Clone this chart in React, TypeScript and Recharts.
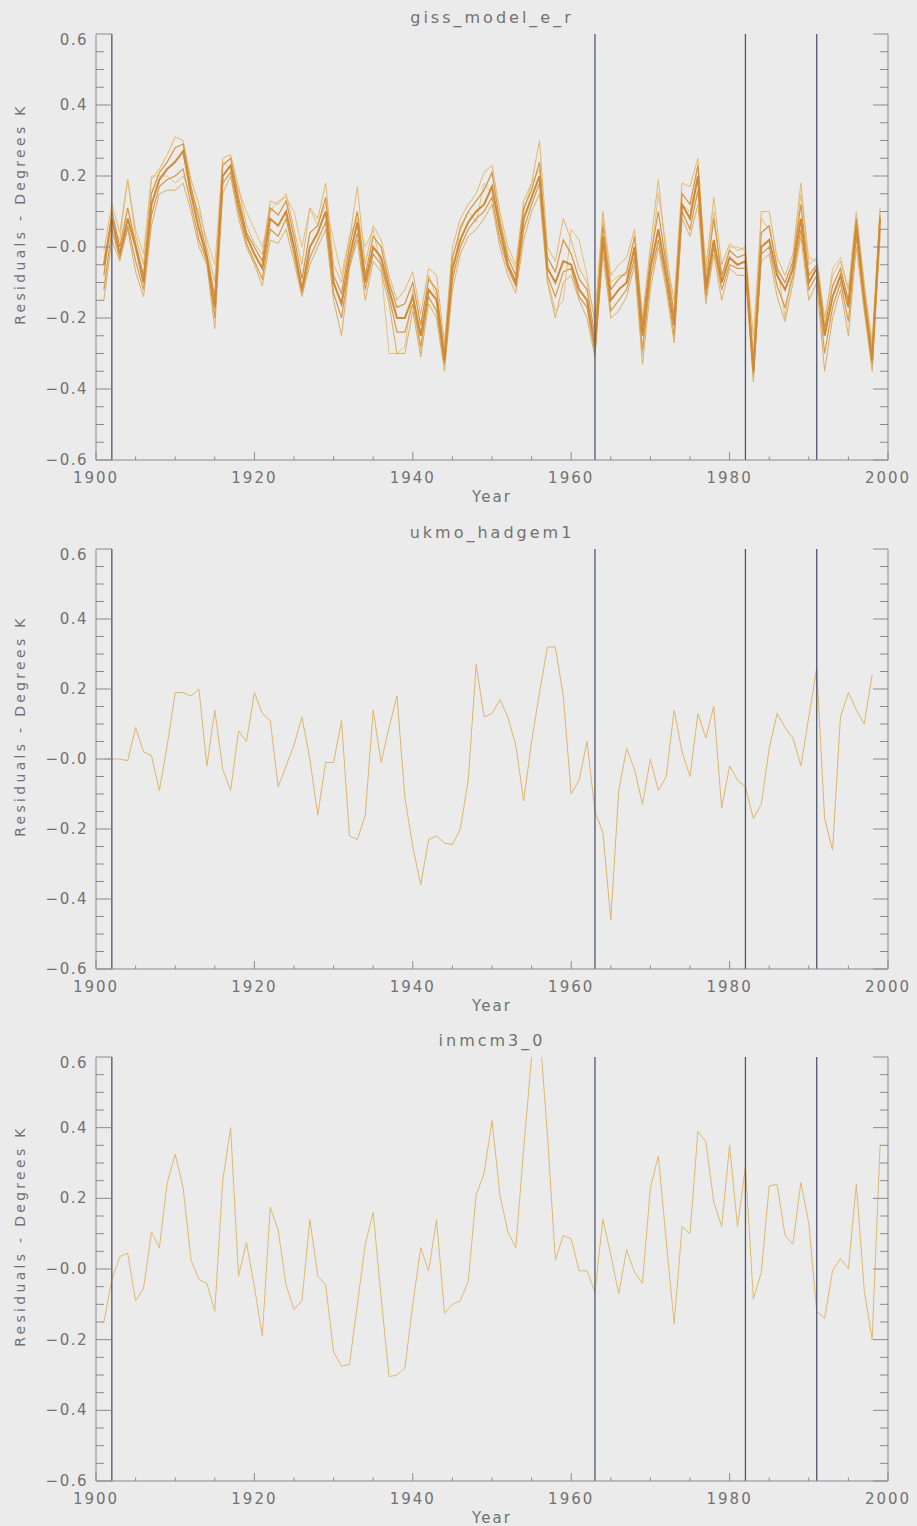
import React from 'react';
import { LineChart, Line, XAxis, YAxis, ReferenceLine } from 'recharts';

const START_YEAR = 1901;

// giss_model_e_r ensemble members (1901-1999)
const gissMean = [
  -0.05, 0.08, -0.02, 0.08, 0.00, -0.10, 0.12, 0.19, 0.22, 0.24,
  0.27, 0.15, 0.05, -0.03, -0.17, 0.20, 0.23, 0.12, 0.03, -0.02,
  -0.06, 0.08, 0.06, 0.10, 0.00, -0.12, 0.00, 0.04, 0.10, -0.10,
  -0.16, -0.03, 0.07, -0.10, 0.00, -0.03, -0.12, -0.20, -0.20, -0.14,
  -0.25, -0.12, -0.15, -0.32, -0.06, 0.02, 0.07, 0.10, 0.12, 0.17,
  0.05, -0.05, -0.10, 0.08, 0.14, 0.20, -0.06, -0.10, -0.04, -0.05,
  -0.12, -0.15, -0.28, 0.03, -0.15, -0.12, -0.10, 0.00, -0.25, -0.06,
  0.05, -0.08, -0.22, 0.12, 0.08, 0.20, -0.12, 0.02, -0.10, -0.03,
  -0.05, -0.04, -0.35, 0.00, 0.02, -0.08, -0.12, -0.06, 0.08, -0.10,
  -0.06, -0.25, -0.14, -0.08, -0.17, 0.06, -0.15, -0.32, 0.08,
];
const giss1 = [
  -0.01, 0.12, 0.04, 0.19, 0.03, -0.05, 0.19, 0.22, 0.26, 0.31,
  0.30, 0.19, 0.12, 0.00, -0.10, 0.25, 0.26, 0.17, 0.06, 0.01,
  -0.02, 0.13, 0.12, 0.15, 0.05, -0.05, 0.11, 0.08, 0.18, -0.05,
  -0.10, 0.02, 0.17, -0.05, 0.06, 0.02, -0.08, -0.15, -0.12, -0.07,
  -0.19, -0.06, -0.08, -0.27, 0.00, 0.08, 0.12, 0.15, 0.21, 0.23,
  0.10, 0.00, -0.05, 0.13, 0.18, 0.30, 0.00, -0.04, 0.08, 0.02,
  -0.06, -0.10, -0.20, 0.10, -0.08, -0.05, -0.03, 0.05, -0.20, 0.00,
  0.19, -0.03, -0.15, 0.18, 0.17, 0.25, -0.07, 0.14, -0.05, 0.01,
  -0.01, 0.00, -0.30, 0.10, 0.10, -0.03, -0.08, -0.02, 0.18, -0.05,
  -0.03, -0.20, -0.08, -0.04, -0.12, 0.10, -0.10, -0.28, 0.11,
];
const giss2 = [
  -0.15, 0.02, -0.04, 0.05, -0.07, -0.14, 0.06, 0.15, 0.16, 0.16,
  0.18, 0.10, 0.00, -0.05, -0.23, 0.15, 0.20, 0.08, 0.00, -0.05,
  -0.11, 0.02, 0.01, 0.05, -0.04, -0.14, -0.05, 0.00, 0.05, -0.15,
  -0.25, -0.06, 0.02, -0.15, -0.04, -0.07, -0.16, -0.30, -0.30, -0.18,
  -0.31, -0.16, -0.20, -0.35, -0.12, -0.02, 0.03, 0.05, 0.08, 0.12,
  0.00, -0.08, -0.13, 0.02, 0.10, 0.15, -0.10, -0.20, -0.10, -0.08,
  -0.15, -0.20, -0.31, -0.02, -0.20, -0.18, -0.14, -0.05, -0.33, -0.12,
  0.00, -0.12, -0.27, 0.08, 0.03, 0.12, -0.16, -0.02, -0.15, -0.06,
  -0.08, -0.08, -0.38, -0.04, -0.02, -0.14, -0.21, -0.10, 0.03, -0.15,
  -0.10, -0.35, -0.20, -0.12, -0.25, 0.00, -0.18, -0.35, 0.03,
];
const giss3 = [
  -0.08, 0.10, 0.00, 0.11, 0.01, -0.08, 0.15, 0.21, 0.24, 0.28,
  0.29, 0.17, 0.08, -0.02, -0.14, 0.23, 0.25, 0.14, 0.04, 0.00,
  -0.04, 0.11, 0.09, 0.13, 0.03, -0.09, 0.04, 0.06, 0.14, -0.08,
  -0.13, 0.00, 0.10, -0.08, 0.03, 0.00, -0.10, -0.17, -0.16, -0.10,
  -0.22, -0.09, -0.12, -0.30, -0.03, 0.05, 0.10, 0.13, 0.16, 0.21,
  0.07, -0.03, -0.08, 0.11, 0.16, 0.24, -0.03, -0.07, 0.02, -0.02,
  -0.09, -0.12, -0.25, 0.06, -0.12, -0.09, -0.07, 0.03, -0.22, -0.03,
  0.10, -0.05, -0.19, 0.15, 0.12, 0.23, -0.10, 0.08, -0.08, -0.01,
  -0.03, -0.02, -0.33, 0.04, 0.06, -0.06, -0.10, -0.04, 0.12, -0.08,
  -0.05, -0.23, -0.11, -0.06, -0.15, 0.08, -0.13, -0.30, 0.09,
];
const giss4 = [
  -0.12, 0.05, -0.03, 0.06, -0.04, -0.12, 0.09, 0.17, 0.19, 0.20,
  0.22, 0.12, 0.02, -0.04, -0.20, 0.18, 0.21, 0.10, 0.01, -0.04,
  -0.09, 0.05, 0.03, 0.08, -0.02, -0.13, -0.03, 0.02, 0.07, -0.13,
  -0.20, -0.05, 0.04, -0.12, -0.02, -0.05, -0.14, -0.24, -0.24, -0.16,
  -0.28, -0.14, -0.18, -0.33, -0.09, 0.00, 0.05, 0.08, 0.10, 0.14,
  0.02, -0.06, -0.11, 0.05, 0.12, 0.18, -0.08, -0.14, -0.07, -0.06,
  -0.14, -0.17, -0.30, 0.01, -0.18, -0.15, -0.12, -0.03, -0.29, -0.09,
  0.02, -0.10, -0.25, 0.10, 0.05, 0.16, -0.14, 0.00, -0.12, -0.05,
  -0.06, -0.06, -0.36, -0.02, 0.00, -0.11, -0.17, -0.08, 0.05, -0.12,
  -0.08, -0.30, -0.17, -0.10, -0.21, 0.03, -0.16, -0.33, 0.05,
];
const giss5 = [
  -0.03, 0.06, 0.02, 0.19, 0.05, -0.02, 0.20, 0.20, 0.20, 0.18,
  0.20, 0.15, 0.10, 0.02, -0.05, 0.24, 0.22, 0.16, 0.10, 0.05,
  0.00, 0.10, 0.13, 0.14, 0.10, 0.00, 0.11, 0.06, 0.12, 0.02,
  -0.08, 0.03, 0.08, 0.00, 0.05, -0.06, -0.30, -0.30, -0.28, -0.12,
  -0.30, -0.08, -0.14, -0.30, -0.10, 0.06, 0.10, 0.07, 0.18, 0.15,
  0.08, -0.02, -0.06, 0.10, 0.18, 0.22, -0.09, -0.18, -0.15, 0.05,
  0.02, -0.08, -0.22, 0.08, -0.10, -0.08, -0.08, -0.02, -0.30, -0.05,
  0.15, 0.00, -0.20, 0.12, 0.10, 0.20, -0.05, 0.10, -0.10, 0.00,
  0.00, -0.01, -0.25, 0.08, 0.05, -0.05, -0.20, -0.04, 0.15, -0.03,
  -0.04, -0.22, -0.06, -0.03, -0.12, 0.06, -0.12, -0.26, 0.10,
];

// ukmo_hadgem1 (1901-1998)
const ukmo = [
  0.00, 0.00, 0.00, -0.005, 0.09, 0.02, 0.01, -0.09, 0.04, 0.19,
  0.19, 0.18, 0.20, -0.02, 0.14, -0.03, -0.09, 0.08, 0.05, 0.19,
  0.13, 0.11, -0.08, -0.02, 0.04, 0.12, 0.00, -0.16, -0.01, -0.01,
  0.11, -0.22, -0.23, -0.16, 0.14, -0.01, 0.09, 0.18, -0.11, -0.25,
  -0.36, -0.23, -0.22, -0.24, -0.245, -0.20, -0.06, 0.27, 0.12, 0.13,
  0.17, 0.12, 0.04, -0.12, 0.05, 0.19, 0.32, 0.32, 0.18, -0.10,
  -0.06, 0.05, -0.15, -0.21, -0.46, -0.09, 0.03, -0.03, -0.13, 0.00,
  -0.09, -0.05, 0.14, 0.02, -0.05, 0.13, 0.06, 0.15, -0.14, -0.02,
  -0.06, -0.08, -0.17, -0.13, 0.03, 0.13, 0.09, 0.06, -0.02, 0.12,
  0.26, -0.17, -0.26, 0.12, 0.19, 0.14, 0.10, 0.24,
];

// inmcm3_0 (1901-1999)
const inmcm = [
  -0.15, -0.03, 0.035, 0.045, -0.09, -0.055, 0.105, 0.06, 0.245, 0.325,
  0.23, 0.025, -0.03, -0.04, -0.12, 0.25, 0.40, -0.02, 0.075, -0.05,
  -0.19, 0.175, 0.11, -0.045, -0.115, -0.09, 0.14, -0.02, -0.045, -0.235,
  -0.275, -0.27, -0.10, 0.07, 0.16, -0.08, -0.305, -0.30, -0.28, -0.10,
  0.06, -0.005, 0.14, -0.125, -0.10, -0.09, -0.035, 0.21, 0.27, 0.42,
  0.21, 0.105, 0.06, 0.34, 0.60, 0.68, 0.38, 0.025, 0.095, 0.085,
  -0.005, -0.005, -0.065, 0.14, 0.04, -0.07, 0.055, -0.01, -0.04, 0.23,
  0.32, 0.08, -0.155, 0.12, 0.10, 0.39, 0.36, 0.19, 0.12, 0.35,
  0.12, 0.29, -0.085, -0.01, 0.235, 0.24, 0.095, 0.07, 0.245, 0.13,
  -0.12, -0.14, -0.005, 0.03, 0.00, 0.24, -0.06, -0.20, 0.35,
];

const eventYears = [1902, 1963, 1982, 1991];
const xMajorTicks = [1900, 1920, 1940, 1960, 1980, 2000];
const xMinorTicks = [1905, 1910, 1915, 1925, 1930, 1935, 1945, 1950, 1955, 1965, 1970, 1975, 1985, 1990, 1995];
const yMajorTicks = [-0.6, -0.4, -0.2, 0, 0.2, 0.4, 0.6];
const yMajorLabels = ['\u22120.6', '\u22120.4', '\u22120.2', '\u22120.0', '0.2', '0.4', '0.6'];
const yMinorTicks = [-0.55, -0.5, -0.45, -0.35, -0.3, -0.25, -0.15, -0.1, -0.05, 0.05, 0.1, 0.15, 0.25, 0.3, 0.35, 0.45, 0.5, 0.55];

const BG = '#ebebeb';
const AXIS = '#8a8a8a';
const TEXT = '#727272';
const VLINE = '#50566e';
const FONT = '"DejaVu Sans", Verdana, sans-serif';
const PLOT_LEFT = 96;
const PLOT_RIGHT = 888;
const PLOT_TOP = 34;
const X_AXIS_H = 46;

function buildRows(series: Record<string, number[]>) {
  const keys = Object.keys(series);
  const n = Math.max(...keys.map((k) => series[k].length));
  const rows: any[] = [];
  for (let i = 0; i < n; i++) {
    const r: any = { year: START_YEAR + i };
    keys.forEach((k) => {
      if (i < series[k].length) r[k] = series[k][i];
    });
    rows.push(r);
  }
  return rows;
}

const allX = [...xMajorTicks, ...xMinorTicks].sort((a, b) => a - b);
const allY = [...yMajorTicks, ...yMinorTicks].sort((a, b) => a - b);

function BottomTick(props: any) {
  const { x, payload, base } = props;
  const v = payload.value;
  const major = xMajorTicks.indexOf(v) >= 0;
  return (
    <g>
      <line x1={x} x2={x} y1={base} y2={base - (major ? 8 : 3.5)} stroke={AXIS} strokeWidth={1} />
      {major && (
        <text x={x} y={base + 23} textAnchor="middle" fill={TEXT} fontSize={15} fontFamily={FONT} letterSpacing={2}>
          {v}
        </text>
      )}
    </g>
  );
}

function TopTick(props: any) {
  const { x, payload, base } = props;
  const major = xMajorTicks.indexOf(payload.value) >= 0;
  return <line x1={x} x2={x} y1={base} y2={base + (major ? 8 : 4)} stroke={AXIS} strokeWidth={1} />;
}

function LeftTick(props: any) {
  const { y, payload } = props;
  const idx = yMajorTicks.indexOf(payload.value);
  const major = idx >= 0;
  const isTop = payload.value === 0.6;
  return (
    <g>
      <line x1={PLOT_LEFT} x2={PLOT_LEFT + (major ? 16 : 8)} y1={y} y2={y} stroke={AXIS} strokeWidth={1} />
      {major && (
        <text x={PLOT_LEFT - 8} y={y + (isTop ? 11 : 5)} textAnchor="end" fill={TEXT} fontSize={15} fontFamily={FONT} letterSpacing={1.5}>
          {yMajorLabels[idx]}
        </text>
      )}
    </g>
  );
}

function RightTick(props: any) {
  const { y, payload } = props;
  const major = yMajorTicks.indexOf(payload.value) >= 0;
  return <line x1={PLOT_RIGHT} x2={PLOT_RIGHT - (major ? 15 : 8)} y1={y} y2={y} stroke={AXIS} strokeWidth={1} />;
}

type LineDef = { key: string; color: string; width: number };

function Panel({ title, top, plotH, rows, lines }: { title: string; top: number; plotH: number; rows: any[]; lines: LineDef[] }) {
  const plotBottom = PLOT_TOP + plotH;
  const height = plotBottom + X_AXIS_H;
  const textStyle: React.CSSProperties = {
    position: 'absolute',
    fontFamily: FONT,
    color: TEXT,
    whiteSpace: 'nowrap',
    lineHeight: 1,
  };
  return (
    <div style={{ position: 'absolute', left: 0, top, width: 917, height }}>
      <LineChart width={917} height={height} data={rows} margin={{ top: PLOT_TOP, right: 0, bottom: 0, left: 0 }}>
        <XAxis
          xAxisId="b"
          dataKey="year"
          type="number"
          domain={[1900, 2000]}
          ticks={allX}
          interval={0}
          height={X_AXIS_H}
          orientation="bottom"
          stroke={AXIS}
          tickLine={false}
          tickSize={0}
          tickMargin={0}
          allowDataOverflow
          tick={(p: any) => <BottomTick {...p} base={plotBottom} />}
        />
        <XAxis
          xAxisId="t"
          dataKey="year"
          type="number"
          domain={[1900, 2000]}
          ticks={allX}
          interval={0}
          height={0}
          orientation="top"
          stroke={AXIS}
          tickLine={false}
          allowDataOverflow
          tick={(p: any) => <TopTick {...p} base={PLOT_TOP} />}
        />
        <YAxis
          yAxisId="l"
          type="number"
          domain={[-0.6, 0.6]}
          ticks={allY}
          interval={0}
          width={PLOT_LEFT}
          stroke={AXIS}
          tickLine={false}
          allowDataOverflow
          tick={(p: any) => <LeftTick {...p} />}
        />
        <YAxis
          yAxisId="r"
          orientation="right"
          type="number"
          domain={[-0.6, 0.6]}
          ticks={allY}
          interval={0}
          width={917 - PLOT_RIGHT}
          stroke={AXIS}
          tickLine={false}
          allowDataOverflow
          tick={(p: any) => <RightTick {...p} />}
        />
        {lines.map((l) => (
          <Line
            key={l.key}
            xAxisId="b"
            yAxisId="l"
            type="linear"
            dataKey={l.key}
            stroke={l.color}
            strokeWidth={l.width}
            dot={false}
            activeDot={false}
            isAnimationActive={false}
          />
        ))}
        {eventYears.map((y) => (
          <ReferenceLine key={y} x={y} xAxisId="b" yAxisId="l" stroke={VLINE} strokeWidth={1.3} />
        ))}
      </LineChart>
      <div style={{ ...textStyle, left: (PLOT_LEFT + PLOT_RIGHT) / 2, top: PLOT_TOP - 24, transform: 'translateX(-50%)', fontSize: 16, letterSpacing: 3 }}>
        {title}
      </div>
      <div style={{ ...textStyle, left: (PLOT_LEFT + PLOT_RIGHT) / 2, top: plotBottom + 30, transform: 'translateX(-50%)', fontSize: 15, letterSpacing: 2 }}>
        Year
      </div>
      <div
        style={{
          ...textStyle,
          left: 20,
          top: PLOT_TOP + plotH / 2 - 33,
          transform: 'translate(-50%, -50%) rotate(-90deg)',
          fontSize: 14,
          letterSpacing: 3.3,
        }}
      >
        Residuals - Degrees K
      </div>
    </div>
  );
}

const gissRows = buildRows({ g1: giss1, g2: giss2, g3: giss3, g4: giss4, g5: giss5, gm: gissMean });
const ukmoRows = buildRows({ u: ukmo });
const inmcmRows = buildRows({ n: inmcm });

const gissLines: LineDef[] = [
  { key: 'g5', color: '#e4c27c', width: 1 },
  { key: 'g2', color: '#dcae62', width: 1 },
  { key: 'g1', color: '#e0b86e', width: 1 },
  { key: 'g4', color: '#d69a48', width: 1.2 },
  { key: 'g3', color: '#d49443', width: 1.2 },
  { key: 'gm', color: '#cf8a38', width: 2 },
];

export default function App() {
  return (
    <div style={{ position: 'absolute', left: 0, top: 0, width: 917, height: 1526, background: BG, overflow: 'hidden' }}>
      <Panel title="giss_model_e_r" top={0} plotH={426} rows={gissRows} lines={gissLines} />
      <Panel title="ukmo_hadgem1" top={515} plotH={420} rows={ukmoRows} lines={[{ key: 'u', color: '#ddb66c', width: 1 }]} />
      <Panel title="inmcm3_0" top={1023} plotH={424} rows={inmcmRows} lines={[{ key: 'n', color: '#dfb96e', width: 1 }]} />
    </div>
  );
}
